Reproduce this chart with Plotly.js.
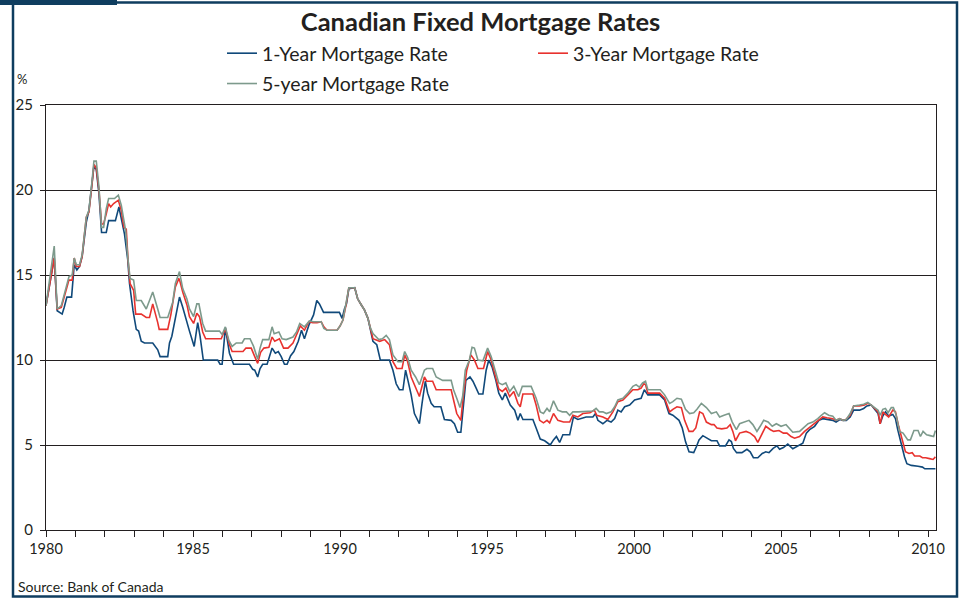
<!DOCTYPE html>
<html>
<head>
<meta charset="utf-8">
<script src="https://cdn.plot.ly/plotly-3.0.1.min.js"></script>
<style>
  html, body { margin: 0; padding: 0; background: #fff; }
  #graph { width: 961px; height: 598px; }
</style>
</head>
<body>
<div id="graph"></div>
<script>
// Canadian fixed mortgage rates (decimal years, %)

const oneYearDates = [
    1980.00, 1980.28, 1980.38, 1980.55, 1980.62, 1980.71, 1980.87, 1980.96, 1981.05, 1981.14,
    1981.23, 1981.37, 1981.46, 1981.57, 1981.63, 1981.71, 1981.80, 1981.89, 1982.05, 1982.13,
    1982.36, 1982.48, 1982.56, 1982.67, 1982.78, 1982.84, 1982.96, 1983.07, 1983.15, 1983.24,
    1983.35, 1983.63, 1983.80, 1983.88, 1984.14, 1984.20, 1984.28, 1984.40, 1984.54, 1984.65,
    1984.76, 1984.88, 1985.04, 1985.16, 1985.24, 1985.35, 1985.84, 1985.92, 1985.99, 1986.10,
    1986.24, 1986.38, 1986.92, 1987.03, 1987.10, 1987.20, 1987.28, 1987.37, 1987.52, 1987.69,
    1987.80, 1987.90, 1988.00, 1988.11, 1988.20, 1988.32, 1988.43, 1988.58, 1988.69, 1988.79,
    1988.94, 1989.10, 1989.21, 1989.30, 1989.44, 1989.98, 1990.07, 1990.15, 1990.22, 1990.30,
    1990.50, 1990.60, 1990.72, 1990.83, 1990.95, 1991.06, 1991.12, 1991.25, 1991.37, 1991.68,
    1991.80, 1991.91, 1992.02, 1992.14, 1992.23, 1992.31, 1992.42, 1992.53, 1992.70, 1992.79,
    1992.90, 1992.98, 1993.10, 1993.20, 1993.43, 1993.55, 1993.78, 1993.89, 1994.00, 1994.11,
    1994.19, 1994.28, 1994.42, 1994.52, 1994.63, 1994.72, 1994.86, 1994.97, 1995.06, 1995.17,
    1995.30, 1995.40, 1995.52, 1995.62, 1995.79, 1995.94, 1996.05, 1996.13, 1996.22, 1996.56,
    1996.67, 1996.81, 1996.96, 1997.07, 1997.15, 1997.26, 1997.36, 1997.47, 1997.58, 1997.81,
    1997.94, 1998.09, 1998.37, 1998.60, 1998.69, 1998.77, 1998.94, 1999.08, 1999.22, 1999.34,
    1999.45, 1999.56, 1999.68, 1999.85, 2000.02, 2000.24, 2000.35, 2000.47, 2000.87, 2001.04,
    2001.19, 2001.32, 2001.53, 2001.64, 2001.75, 2001.87, 2002.03, 2002.12, 2002.21, 2002.34,
    2002.51, 2002.63, 2002.82, 2002.91, 2003.11, 2003.23, 2003.31, 2003.38, 2003.49, 2003.67,
    2003.84, 2003.95, 2004.06, 2004.21, 2004.36, 2004.48, 2004.59, 2004.73, 2004.86, 2004.95,
    2005.08, 2005.23, 2005.40, 2005.63, 2005.74, 2005.86, 2005.97, 2006.14, 2006.29, 2006.42,
    2006.55, 2006.76, 2006.87, 2007.00, 2007.11, 2007.22, 2007.35, 2007.47, 2007.67, 2007.81,
    2007.92, 2008.07, 2008.21, 2008.30, 2008.37, 2008.46, 2008.55, 2008.66, 2008.80, 2008.89,
    2008.97, 2009.09, 2009.20, 2009.28, 2009.43, 2009.66, 2009.81, 2009.89, 2010.25
];
const oneYearRates = [
    13.2, 16.0, 12.9, 12.7, 13.1, 13.7, 13.7, 15.6, 15.3, 15.5,
    16.1, 18.1, 18.8, 20.4, 21.4, 21.2, 19.8, 17.5, 17.5, 18.2,
    18.2, 19.0, 18.4, 17.4, 15.9, 14.5, 12.9, 11.8, 11.7, 11.1,
    11.0, 11.0, 10.6, 10.2, 10.2, 11.0, 11.4, 12.5, 13.7, 13.1,
    12.5, 11.7, 10.8, 12.2, 11.4, 10.0, 10.0, 9.75, 9.75, 11.9,
    10.4, 9.75, 9.75, 9.45, 9.4, 9.0, 9.5, 9.75, 9.75, 10.7,
    10.4, 10.5, 10.2, 9.75, 9.75, 10.25, 10.5, 11.1, 11.75, 11.25,
    12.05, 12.65, 13.5, 13.3, 12.8, 12.8, 12.45, 13.0, 13.3, 14.2,
    14.25, 13.6, 13.25, 12.95, 12.45, 11.55, 11.1, 10.9, 10.0, 10.0,
    9.4, 8.6, 8.25, 8.25, 9.4, 8.8, 7.95, 6.85, 6.25, 7.45,
    8.75, 8.05, 7.45, 7.25, 7.25, 6.5, 6.45, 6.25, 5.75, 5.75,
    7.05, 8.8, 9.0, 8.75, 8.35, 8.0, 8.0, 9.4, 10.0, 9.6,
    8.8, 8.05, 7.65, 8.05, 7.35, 7.05, 6.45, 6.85, 6.5, 6.5,
    6.0, 5.35, 5.25, 5.1, 5.0, 5.3, 5.5, 5.15, 5.6, 5.6,
    6.65, 6.5, 6.65, 6.65, 6.85, 6.45, 6.25, 6.45, 6.35, 6.55,
    7.05, 6.95, 7.25, 7.35, 7.65, 7.75, 8.25, 7.95, 7.95, 7.65,
    6.85, 6.75, 6.45, 6.0, 5.2, 4.6, 4.55, 4.9, 5.3, 5.55,
    5.4, 5.25, 5.25, 4.95, 4.95, 5.3, 5.2, 4.8, 4.55, 4.55,
    4.75, 4.6, 4.25, 4.25, 4.5, 4.6, 4.55, 4.8, 4.95, 4.75,
    4.85, 5.05, 4.78, 5.0, 5.1, 5.7, 5.9, 6.1, 6.45, 6.55,
    6.5, 6.45, 6.35, 6.5, 6.45, 6.45, 6.65, 7.05, 7.05, 7.15,
    7.3, 7.35, 7.05, 6.85, 6.25, 6.7, 6.95, 6.7, 6.8, 6.55,
    5.9, 5.0, 4.3, 3.9, 3.8, 3.75, 3.7, 3.6, 3.6
];

const threeYearDates = [
    1980.00, 1980.28, 1980.38, 1980.52, 1980.78, 1980.89, 1980.96, 1981.03, 1981.14, 1981.23,
    1981.37, 1981.46, 1981.57, 1981.63, 1981.71, 1981.80, 1981.89, 1981.96, 1982.05, 1982.13,
    1982.20, 1982.30, 1982.46, 1982.56, 1982.65, 1982.73, 1982.79, 1982.86, 1982.98, 1983.05,
    1983.24, 1983.41, 1983.52, 1983.63, 1983.80, 1983.85, 1984.14, 1984.25, 1984.40, 1984.52,
    1984.56, 1984.65, 1984.80, 1984.88, 1985.02, 1985.13, 1985.22, 1985.33, 1985.43, 1985.96,
    1986.10, 1986.24, 1986.33, 1986.70, 1986.80, 1986.98, 1987.10, 1987.20, 1987.30, 1987.41,
    1987.58, 1987.69, 1987.78, 1987.94, 1988.08, 1988.23, 1988.40, 1988.52, 1988.65, 1988.79,
    1988.94, 1989.07, 1989.22, 1989.36, 1989.45, 1989.56, 1989.90, 1990.00, 1990.10, 1990.20,
    1990.30, 1990.50, 1990.60, 1990.72, 1990.83, 1990.95, 1991.03, 1991.12, 1991.35, 1991.52,
    1991.68, 1991.80, 1991.93, 1992.11, 1992.20, 1992.30, 1992.42, 1992.57, 1992.70, 1992.87,
    1992.95, 1993.15, 1993.27, 1993.78, 1993.86, 1993.97, 1994.11, 1994.19, 1994.31, 1994.45,
    1994.57, 1994.69, 1994.88, 1995.02, 1995.14, 1995.30, 1995.40, 1995.52, 1995.64, 1995.77,
    1995.91, 1996.05, 1996.13, 1996.22, 1996.56, 1996.67, 1996.79, 1996.92, 1997.04, 1997.13,
    1997.26, 1997.41, 1997.60, 1997.81, 1997.92, 1998.09, 1998.26, 1998.50, 1998.65, 1998.73,
    1998.94, 1999.11, 1999.28, 1999.45, 1999.62, 1999.79, 1999.96, 2000.13, 2000.24, 2000.33,
    2000.39, 2000.47, 2000.87, 2001.04, 2001.21, 2001.32, 2001.46, 2001.61, 2001.72, 2001.87,
    2002.00, 2002.10, 2002.23, 2002.34, 2002.46, 2002.63, 2002.72, 2002.82, 2002.98, 2003.16,
    2003.27, 2003.36, 2003.45, 2003.59, 2003.81, 2003.95, 2004.10, 2004.21, 2004.36, 2004.48,
    2004.64, 2004.75, 2004.93, 2005.08, 2005.20, 2005.34, 2005.46, 2005.63, 2005.80, 2005.95,
    2006.14, 2006.29, 2006.42, 2006.56, 2006.76, 2006.87, 2007.00, 2007.11, 2007.20, 2007.35,
    2007.47, 2007.67, 2007.84, 2007.95, 2008.07, 2008.21, 2008.30, 2008.37, 2008.46, 2008.55,
    2008.66, 2008.80, 2008.89, 2009.00, 2009.12, 2009.23, 2009.35, 2009.46, 2009.54, 2009.72,
    2009.81, 2009.92, 2010.05, 2010.17, 2010.25
];
const threeYearRates = [
    13.2, 16.0, 13.0, 13.1, 14.7, 14.7, 16.0, 15.5, 15.5, 16.1,
    18.4, 18.7, 20.4, 21.5, 21.3, 20.0, 18.0, 18.0, 18.6, 19.2,
    19.0, 19.2, 19.4, 18.8, 17.8, 17.7, 15.9, 14.5, 14.1, 12.7,
    12.7, 12.5, 12.5, 13.3, 12.2, 11.8, 11.8, 12.7, 14.3, 14.8,
    14.6, 14.0, 13.2, 12.55, 12.15, 12.75, 12.55, 11.65, 11.25, 11.25,
    11.85, 10.9, 10.5, 10.5, 10.7, 10.7, 10.2, 9.8, 10.45, 10.7,
    10.75, 11.35, 11.1, 11.25, 10.7, 10.7, 11.0, 11.45, 12.0, 11.75,
    12.25, 12.2, 12.2, 12.25, 11.95, 11.75, 11.75, 12.0, 12.35, 13.2,
    14.25, 14.25, 13.6, 13.25, 12.95, 12.45, 11.9, 11.25, 11.1, 11.2,
    10.9, 9.9, 9.5, 9.5, 10.3, 9.9, 9.0, 8.35, 7.85, 9.0,
    8.75, 8.75, 8.25, 8.25, 7.65, 6.85, 6.45, 7.85, 9.4, 10.3,
    10.0, 9.5, 9.5, 10.5, 10.0, 9.0, 8.3, 8.15, 8.35, 7.85,
    8.15, 7.45, 7.25, 8.0, 8.0, 7.35, 6.45, 6.3, 6.45, 6.3,
    6.85, 6.45, 6.35, 6.35, 6.75, 6.65, 6.85, 6.9, 7.05, 6.75,
    6.65, 6.5, 6.95, 7.55, 7.65, 7.95, 8.25, 8.25, 8.35, 8.6,
    8.55, 8.05, 8.05, 7.75, 6.95, 7.1, 7.25, 7.2, 6.45, 5.8,
    5.8, 6.0, 6.95, 6.85, 6.35, 6.2, 6.2, 6.0, 5.95, 6.0,
    6.2, 5.8, 5.25, 5.7, 5.8, 5.7, 5.5, 5.15, 5.7, 6.1,
    5.9, 5.8, 5.85, 5.7, 5.7, 5.5, 5.4, 5.5, 5.8, 6.0,
    6.25, 6.5, 6.65, 6.6, 6.55, 6.45, 6.55, 6.45, 6.5, 6.75,
    7.3, 7.3, 7.35, 7.45, 7.35, 7.1, 6.95, 6.25, 6.95, 6.8,
    6.65, 7.05, 6.95, 6.1, 5.3, 4.6, 4.5, 4.55, 4.35, 4.35,
    4.25, 4.25, 4.2, 4.15, 4.3
];

const fiveYearDates = [
    1980.00, 1980.28, 1980.38, 1980.52, 1980.78, 1980.89, 1980.96, 1981.03, 1981.14, 1981.23,
    1981.37, 1981.46, 1981.57, 1981.63, 1981.71, 1981.80, 1981.89, 1981.96, 1982.05, 1982.13,
    1982.33, 1982.46, 1982.56, 1982.71, 1982.79, 1982.86, 1982.98, 1983.07, 1983.24, 1983.41,
    1983.52, 1983.63, 1983.80, 1983.88, 1984.14, 1984.31, 1984.40, 1984.54, 1984.65, 1984.79,
    1984.88, 1985.02, 1985.13, 1985.20, 1985.33, 1985.43, 1985.90, 1985.99, 1986.10, 1986.22,
    1986.33, 1986.47, 1986.67, 1986.75, 1986.94, 1987.06, 1987.20, 1987.28, 1987.37, 1987.58,
    1987.69, 1987.76, 1987.92, 1988.03, 1988.17, 1988.28, 1988.40, 1988.52, 1988.63, 1988.79,
    1988.96, 1989.10, 1989.25, 1989.36, 1989.45, 1989.56, 1989.90, 1990.00, 1990.10, 1990.20,
    1990.30, 1990.50, 1990.60, 1990.72, 1990.83, 1990.95, 1991.03, 1991.12, 1991.32, 1991.44,
    1991.57, 1991.68, 1991.80, 1991.97, 1992.11, 1992.20, 1992.30, 1992.42, 1992.57, 1992.70,
    1992.87, 1992.95, 1993.15, 1993.27, 1993.49, 1993.78, 1993.86, 1993.97, 1994.08, 1994.17,
    1994.26, 1994.40, 1994.49, 1994.57, 1994.69, 1994.86, 1995.02, 1995.14, 1995.30, 1995.40,
    1995.52, 1995.64, 1995.77, 1995.91, 1996.08, 1996.20, 1996.50, 1996.67, 1996.81, 1996.92,
    1997.04, 1997.13, 1997.26, 1997.41, 1997.56, 1997.70, 1997.81, 1997.92, 1998.10, 1998.40,
    1998.60, 1998.71, 1998.82, 1998.94, 1999.06, 1999.22, 1999.34, 1999.45, 1999.62, 1999.79,
    1999.96, 2000.07, 2000.18, 2000.29, 2000.39, 2000.47, 2000.89, 2001.04, 2001.21, 2001.32,
    2001.46, 2001.61, 2001.75, 2001.89, 2002.03, 2002.14, 2002.29, 2002.46, 2002.63, 2002.80,
    2002.91, 2003.06, 2003.23, 2003.34, 2003.48, 2003.59, 2003.77, 2003.91, 2004.04, 2004.18,
    2004.29, 2004.41, 2004.56, 2004.70, 2004.84, 2005.00, 2005.17, 2005.29, 2005.40, 2005.63,
    2005.80, 2005.92, 2006.08, 2006.25, 2006.37, 2006.48, 2006.62, 2006.76, 2006.87, 2007.00,
    2007.11, 2007.22, 2007.35, 2007.47, 2007.67, 2007.81, 2007.95, 2008.07, 2008.21, 2008.30,
    2008.37, 2008.46, 2008.55, 2008.64, 2008.75, 2008.82, 2008.91, 2009.03, 2009.15, 2009.31,
    2009.40, 2009.52, 2009.66, 2009.74, 2009.83, 2009.95, 2010.07, 2010.19, 2010.25
];
const fiveYearRates = [
    13.2, 16.7, 13.0, 13.2, 14.9, 15.0, 16.0, 15.6, 15.6, 16.2,
    18.4, 18.8, 20.6, 21.7, 21.7, 20.2, 17.8, 17.8, 18.9, 19.5,
    19.5, 19.7, 19.1, 17.6, 15.9, 14.8, 14.7, 13.5, 13.5, 13.0,
    13.5, 14.0, 13.0, 12.5, 12.5, 13.4, 14.5, 15.2, 14.2, 13.6,
    13.0, 12.55, 13.3, 13.3, 12.15, 11.7, 11.7, 11.5, 11.95, 11.15,
    10.8, 11.0, 11.0, 11.25, 11.25, 10.8, 10.05, 10.7, 11.2, 11.2,
    11.95, 11.55, 11.65, 11.25, 11.2, 11.25, 11.35, 11.65, 12.15, 11.95,
    12.3, 12.25, 12.25, 12.25, 11.85, 11.75, 11.75, 12.0, 12.35, 13.3,
    14.25, 14.25, 13.6, 13.25, 12.95, 12.45, 11.9, 11.55, 11.2, 11.25,
    11.45, 11.2, 10.3, 9.9, 9.9, 10.5, 10.15, 9.4, 9.0, 8.55,
    9.4, 9.5, 9.5, 9.0, 8.8, 8.8, 8.25, 7.75, 7.2, 7.85,
    9.4, 10.0, 10.75, 10.7, 10.0, 9.95, 10.7, 10.2, 9.2, 8.65,
    8.55, 8.65, 8.15, 8.45, 7.85, 8.45, 8.45, 7.75, 6.95, 6.85,
    7.15, 6.95, 7.6, 7.05, 6.95, 6.95, 6.75, 6.95, 6.95, 7.0,
    7.0, 7.15, 6.95, 6.95, 6.85, 6.95, 7.25, 7.65, 7.75, 8.05,
    8.45, 8.55, 8.4, 8.65, 8.75, 8.25, 8.25, 7.95, 7.45, 7.55,
    7.75, 7.7, 7.1, 6.85, 6.9, 7.1, 7.45, 7.2, 6.85, 6.95,
    6.65, 6.75, 6.85, 6.35, 5.9, 6.25, 6.35, 6.45, 6.2, 5.8,
    6.1, 6.45, 6.35, 6.1, 6.25, 6.1, 6.2, 5.95, 5.75, 5.8,
    6.1, 6.25, 6.35, 6.55, 6.75, 6.9, 6.75, 6.7, 6.45, 6.55,
    6.45, 6.5, 6.85, 7.3, 7.35, 7.4, 7.5, 7.35, 7.15, 7.05,
    6.75, 7.1, 7.15, 6.9, 7.2, 7.2, 6.8, 5.8, 5.7, 5.3,
    5.3, 5.85, 5.85, 5.5, 5.8, 5.6, 5.55, 5.5, 5.85
];

const seriesNames = ['1-Year Mortgage Rate', '3-Year Mortgage Rate', '5-year Mortgage Rate'];
const seriesColors = ['#10497a', '#e8322e', '#7d9a8c'];

const yearTicks = [];
const yearTickText = [];
for (let year = 1980; year <= 2010; year++) {
    yearTicks.push(year);
    yearTickText.push(year % 5 === 0 ? String(year) : '');
}

// pixel -> paper helpers for the frame and the loose texts
const W = 961, H = 598;
const M = {l: 46, r: 25, t: 105, b: 68};
const plotW = W - M.l - M.r;
const plotH = H - M.t - M.b;
const px = x => (x - M.l) / plotW;
const py = y => (H - M.b - y) / plotH;

const FONT = 'Lato, "Open Sans", sans-serif';
const INK = '#231f20';
const NAVY = '#0f3d5f';

function drawGraph() {
    const oneYear = {
        x: oneYearDates, y: oneYearRates, mode: 'lines', name: seriesNames[0],
        line: {color: seriesColors[0], width: 1.6}, legend: 'legend', legendgroup: 'a',
    };
    const threeYear = {
        x: threeYearDates, y: threeYearRates, mode: 'lines', name: seriesNames[1],
        line: {color: seriesColors[1], width: 1.6}, legend: 'legend2', legendgroup: 'b',
    };
    const fiveYear = {
        x: fiveYearDates, y: fiveYearRates, mode: 'lines', name: seriesNames[2],
        line: {color: seriesColors[2], width: 1.6}, legend: 'legend', legendgroup: 'c',
    };

    const legendBase = {
        orientation: 'v',
        xanchor: 'left',
        yanchor: 'top',
        bgcolor: 'rgba(0,0,0,0)',
        font: {family: FONT, size: 19.5, color: INK},
        traceorder: 'grouped',
        tracegroupgap: 2,
        itemwidth: 30,
    };

    const layout = {
        width: W,
        height: H,
        margin: M,
        paper_bgcolor: '#fff',
        plot_bgcolor: '#fff',
        font: {family: FONT, color: INK},
        title: {
            text: '<b>Canadian Fixed Mortgage Rates</b>',
            font: {family: FONT, size: 25.5, color: INK},
            x: 0.5, xanchor: 'center',
            y: 1 - 22 / H, yanchor: 'middle',
        },
        xaxis: {
            range: [1980, 2010.27],
            tickvals: yearTicks,
            ticktext: yearTickText,
            ticks: 'outside', ticklen: 6, tickcolor: INK, tickwidth: 1,
            tickfont: {family: FONT, size: 14.5, color: INK},
            showline: true, linecolor: INK, linewidth: 1, mirror: true,
            showgrid: false, zeroline: false,
        },
        yaxis: {
            range: [0, 25],
            tickvals: [0, 5, 10, 15, 20, 25],
            ticks: 'outside', ticklen: 5, tickcolor: INK, tickwidth: 1,
            tickfont: {family: FONT, size: 15, color: INK},
            ticklabelstandoff: 4,
            showline: true, linecolor: INK, linewidth: 1, mirror: true,
            showgrid: true, gridcolor: INK, gridwidth: 1,
            zeroline: false,
        },
        showlegend: true,
        legend: Object.assign({}, legendBase, {x: px(222), y: py(34)}),
        legend2: Object.assign({}, legendBase, {x: px(533), y: py(34)}),
        annotations: [
            {
                text: '%', xref: 'paper', yref: 'paper', x: px(15), y: py(79),
                xanchor: 'left', yanchor: 'middle', showarrow: false,
                font: {family: FONT, size: 13, color: INK},
            },
            {
                text: 'Source: Bank of Canada', xref: 'paper', yref: 'paper', x: px(16), y: py(586),
                xanchor: 'left', yanchor: 'middle', showarrow: false,
                font: {family: FONT, size: 14, color: INK},
            },
        ],
        shapes: [
            {
                type: 'rect', xref: 'paper', yref: 'paper',
                x0: px(13), x1: px(957), y0: py(596.5), y1: py(2.5),
                line: {color: NAVY, width: 2.5}, fillcolor: 'rgba(0,0,0,0)',
            },
            {
                type: 'rect', xref: 'paper', yref: 'paper',
                x0: px(0), x1: px(117), y0: py(5), y1: py(0),
                line: {width: 0}, fillcolor: NAVY,
            },
        ],
    };

    const config = {displayModeBar: false, responsive: false};

    Plotly.newPlot('graph', [oneYear, threeYear, fiveYear], layout, config);
}

drawGraph();
</script>
</body>
</html>
